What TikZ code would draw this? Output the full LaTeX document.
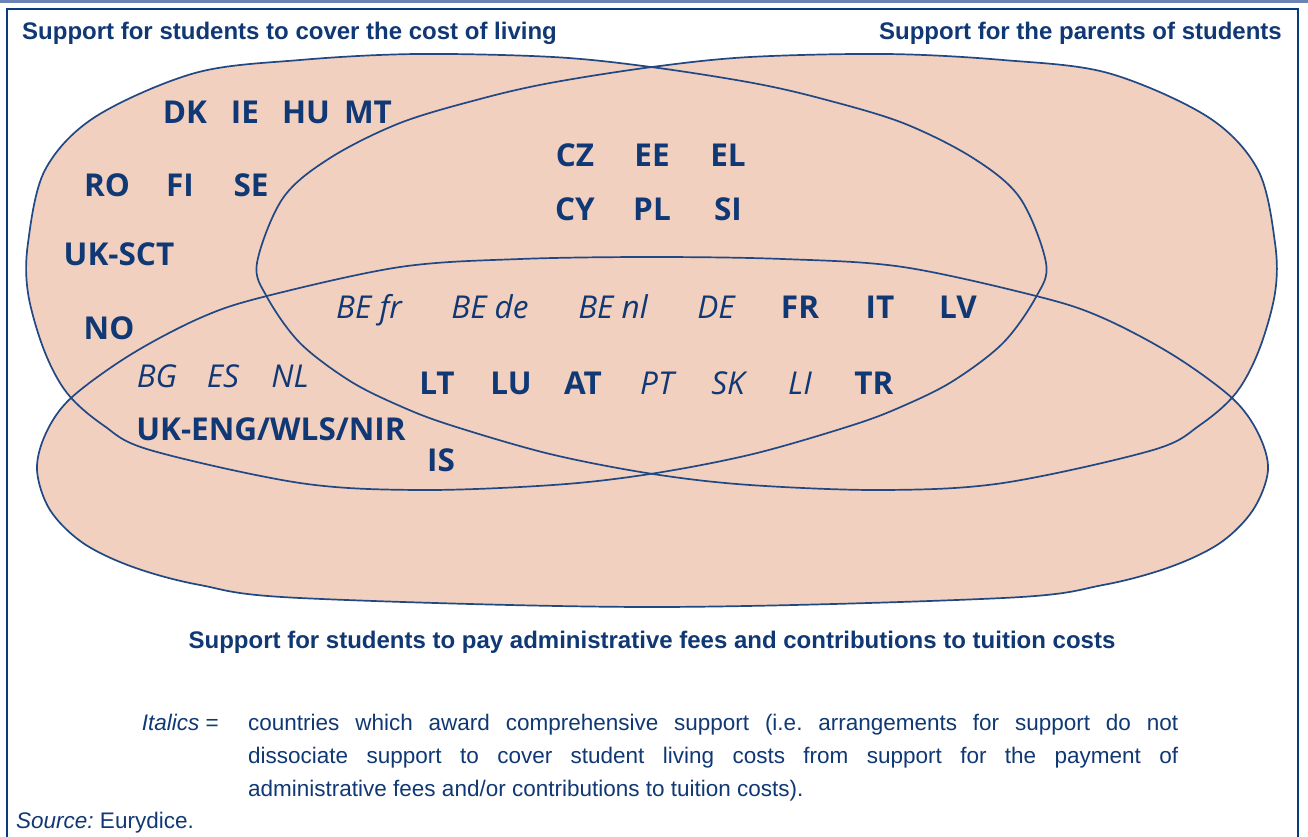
\documentclass[tikz,border=0pt]{standalone}
\usepackage{fontspec}
\setmainfont{Liberation Sans}
\newfontfamily\codefont{Open Sans}
\usepackage{xcolor}
\definecolor{peach}{RGB}{242,208,192}
\definecolor{outline}{RGB}{32,72,132}
\definecolor{inkblue}{RGB}{16,56,116}
\definecolor{frameblue}{RGB}{8,60,125}
\definecolor{bandblue}{RGB}{108,130,178}

% the three sets
\newcommand\parentsblob[1]{%
  \path[#1] plot[smooth cycle, tension=0.55] coordinates {
    (652,67) (750,57) (887,54) (1003,60) (1108,73) (1208,117) (1258,170)
    (1275,243) (1275,293) (1259,350) (1236,393) (1200,425) (1153,450)
    (1003,483) (883,490) (750,485) (653,474) (550,454) (450,425) (400,406)
    (350,381) (300,343) (267,297) (257,263) (283,198) (330,158) (400,123)
    (480,99) (550,83)};}
\newcommand\feesblob[1]{%
  \path[#1] plot[smooth cycle, tension=0.55] coordinates {
    (37,470) (46,433) (71,398) (130,355) (200,318) (263,297) (400,267)
    (520,259) (652,257) (783,259) (903,267) (1040,297) (1103,318)
    (1173,355) (1232,398) (1258,433) (1268,470) (1253,510) (1220,543)
    (1170,567) (1103,585) (1003,598) (652,607) (300,598) (200,585)
    (133,567) (83,543) (50,510)};}

\begin{document}
\frenchspacing
\begin{tikzpicture}[x=1pt, y=-1pt,
  codebold/.style={font=\codefont\bfseries\fontsize{31.5}{34}\selectfont,
    text=inkblue, inner sep=0pt, text height=22pt, text depth=0pt},
  codeital/.style={font=\codefont\itshape\fontsize{31.5}{34}\selectfont,
    text=inkblue, inner sep=0pt, text height=22pt, text depth=0pt},
  heading/.style={font=\bfseries\fontsize{24}{28}\selectfont,
    text=inkblue, inner sep=0pt},
  note/.style={font=\fontsize{22.5}{27}\selectfont, text=inkblue,
    inner sep=0pt, anchor=base west},
  setline/.style={draw=outline, line width=1.7pt}]
  \useasboundingbox[fill=white] (0,0) rectangle (1308,836);

  % Frame
  \fill[bandblue] (0,0) rectangle (1308,3);
  \draw[frameblue, line width=2.6pt] (7,850) -- (7,9) -- (1298,9) -- (1298,850);

  % Sets (fill first, outlines on top)
  \parentsblob{fill=peach}
  \begin{scope}[xshift=1303pt, xscale=-1]
    \parentsblob{fill=peach}
  \end{scope}
  \feesblob{fill=peach}
  \parentsblob{setline}
  \begin{scope}[xshift=1303pt, xscale=-1]
    \parentsblob{setline}
  \end{scope}
  \feesblob{setline}

  % Set titles
  \node[heading, anchor=base west] (living) at (22,39) {Support for students to cover the cost of living};
  \node[heading, anchor=base east] (parents) at (1282,39) {Support for the parents of students};
  \node[heading, anchor=base] (fees) at (652,648) {Support for students to pay administrative fees and contributions to tuition costs};

  % Cost of living only
  \node[codebold] (dk) at (185,112) {DK};
  \node[codebold] (ie) at (245,112) {IE};
  \node[codebold] (hu) at (306,112) {HU};
  \node[codebold] (mt) at (368,112) {MT};
  \node[codebold] (ro) at (107,185) {RO};
  \node[codebold] (fi) at (180,185) {FI};
  \node[codebold] (se) at (251,185) {SE};
  \node[codebold] (uksct) at (119,254) {UK-SCT};
  \node[codebold] (no) at (109,328) {NO};

  % Cost of living and parents
  \node[codebold] (cz) at (575,155) {CZ};
  \node[codebold] (ee) at (652,155) {EE};
  \node[codebold] (el) at (728,155) {EL};
  \node[codebold] (cy) at (575,209) {CY};
  \node[codebold] (pl) at (652,209) {PL};
  \node[codebold] (si) at (728,209) {SI};

  % All three
  \node[codeital] (befr) at (369,307) {BE fr};
  \node[codeital] (bede) at (490,307) {BE de};
  \node[codeital] (benl) at (613,307) {BE nl};
  \node[codeital] (de) at (716,307) {DE};
  \node[codebold] (fr) at (800,307) {FR};
  \node[codebold] (it) at (880,307) {IT};
  \node[codebold] (lv) at (958,307) {LV};
  \node[codebold] (lt) at (437,383) {LT};
  \node[codebold] (lu) at (511,383) {LU};
  \node[codebold] (at) at (583,383) {AT};
  \node[codeital] (pt) at (657,383) {PT};
  \node[codeital] (sk) at (728,383) {SK};
  \node[codeital] (li) at (800,383) {LI};
  \node[codebold] (tr) at (874,383) {TR};
  \node[codebold] (is) at (441,460) {IS};

  % Cost of living and fees
  \node[codeital] (bg) at (157,376) {BG};
  \node[codeital] (es) at (223,376) {ES};
  \node[codeital] (nl) at (290,376) {NL};
  \node[codebold] (ukeng) at (271,429) {UK-ENG/WLS/NIR};

  % Legend
  \node[note, anchor=base east] (key) at (219,730) {\textit{Italics} =};
  \node[note] (line1) at (248,730) {\makebox[930pt][s]{countries which award comprehensive support (i.e. arrangements for support do not}};
  \node[note] (line2) at (248,763) {\makebox[930pt][s]{dissociate support to cover student living costs from support for the payment of}};
  \node[note] (line3) at (248,796) {administrative fees and/or contributions to tuition costs).};
  \node[note] (source) at (16,828) {\textit{Source:} Eurydice.};
\end{tikzpicture}
\end{document}
